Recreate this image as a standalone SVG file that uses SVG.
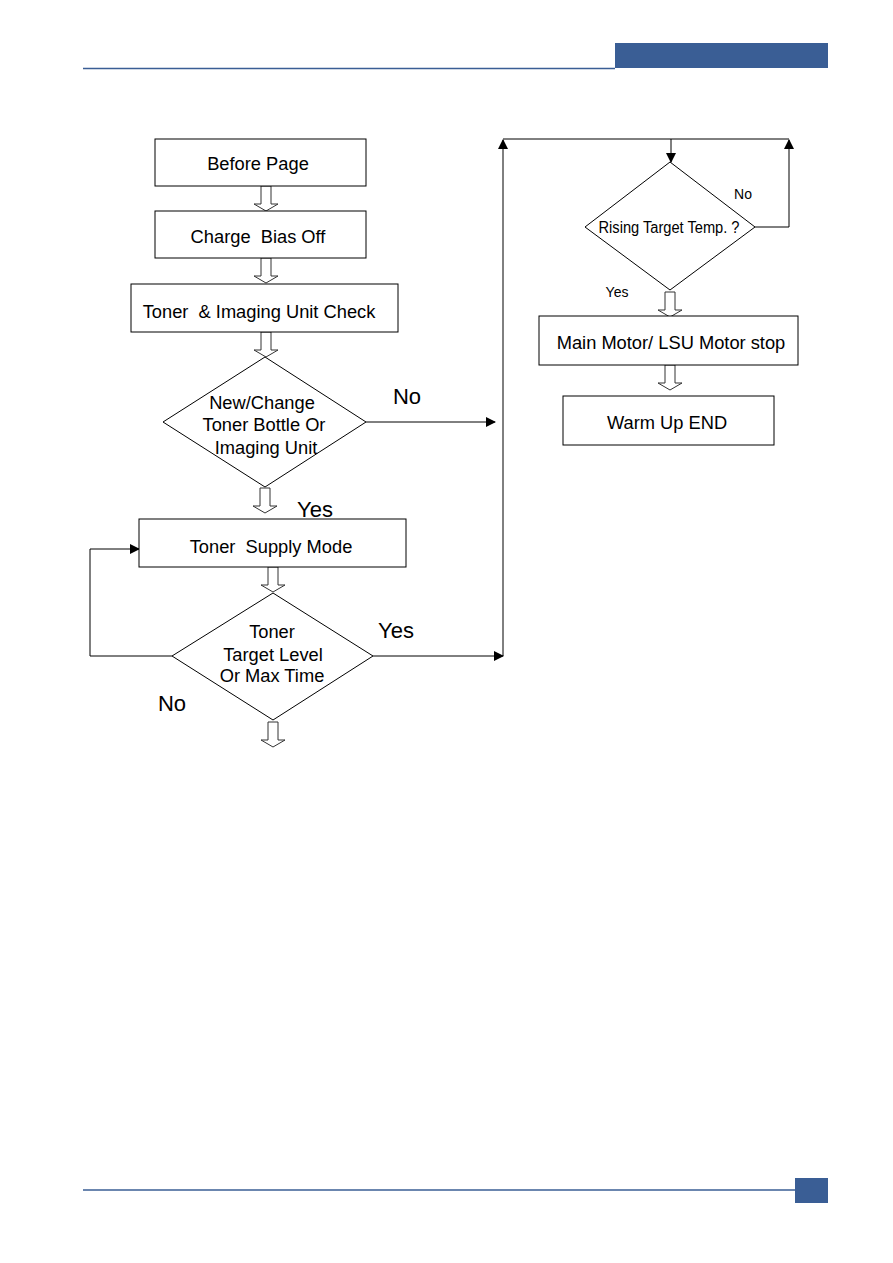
<svg xmlns="http://www.w3.org/2000/svg" width="893" height="1263" viewBox="0 0 893 1263">
<style>
.box{fill:#fff;stroke:#000;stroke-width:1}
.ln{fill:none;stroke:#000;stroke-width:1}
.t{font-family:"Liberation Sans",Arial,sans-serif;font-size:18.3px;fill:#000;text-anchor:middle}
.big{font-family:"Liberation Sans",Arial,sans-serif;font-size:22px;fill:#000;text-anchor:middle}
.sm{font-family:"Liberation Sans",Arial,sans-serif;font-size:14px;fill:#000;text-anchor:middle}
.hol{fill:#fff;stroke:#333;stroke-width:1}
</style>
<defs>
<marker id="ah" markerWidth="10" markerHeight="10" refX="9" refY="5" orient="auto" markerUnits="userSpaceOnUse">
<path d="M0,0 L10,5 L0,10 Z" fill="#000"/>
</marker>
<path id="harrow" d="M-5,0 V18 H-12 L0,25 L12,18 H5 V0 Z"/>
</defs>
<g id="header">
<rect x="615" y="43" width="213" height="25" fill="#3a5e95"/>
<line x1="83" y1="68.5" x2="615" y2="68.5" stroke="#3a5e95" stroke-width="1.5"/>
<line x1="83" y1="1190" x2="795" y2="1190" stroke="#3a5e95" stroke-width="1.5"/>
<rect x="795" y="1178" width="33" height="25" fill="#3a5e95"/>
</g>
<g id="connectors">
<use href="#harrow" class="hol" transform="translate(266,186)"/>
<use href="#harrow" class="hol" transform="translate(266,258)"/>
<use href="#harrow" class="hol" transform="translate(266,332)"/>
<use href="#harrow" class="hol" transform="translate(265,488)"/>
<use href="#harrow" class="hol" transform="translate(273,567)"/>
<use href="#harrow" class="hol" transform="translate(273,722)"/>
<use href="#harrow" class="hol" transform="translate(670,292)"/>
<use href="#harrow" class="hol" transform="translate(670,365)"/>
<path class="ln" d="M366,422 H495" marker-end="url(#ah)"/>
<path class="ln" d="M373,656 H503" marker-end="url(#ah)"/>
<path class="ln" d="M503,656 V140"  marker-end="url(#ah)"/>
<path class="ln" d="M503,139 H789"/>
<path class="ln" d="M671,139 V162" marker-end="url(#ah)"/>
<path class="ln" d="M755,227 H789 V140" marker-end="url(#ah)"/>
<path class="ln" d="M172,656 H90 V549 H139" marker-end="url(#ah)"/>
<text class="big" x="407" y="404">No</text>
<text class="big" x="315" y="517">Yes</text>
<text class="big" x="396" y="638">Yes</text>
<text class="big" x="172" y="711">No</text>
<text class="sm" x="743" y="199">No</text>
<text class="sm" x="617" y="297">Yes</text>
</g>
<g id="n1"><rect class="box" x="155" y="139" width="211" height="47"/><text class="t" x="258" y="170">Before Page</text></g>
<g id="n2"><rect class="box" x="155" y="211" width="211" height="47"/><text class="t" x="258" y="243" xml:space="preserve">Charge  Bias Off</text></g>
<g id="n3"><rect class="box" x="131" y="284" width="267" height="48"/><text class="t" x="259" y="318" xml:space="preserve">Toner  &amp; Imaging Unit Check</text></g>
<g id="d1"><polygon class="box" points="265,357 366,422 265,487 163,422"/>
<text class="t" x="262" y="409">New/Change</text><text class="t" x="264" y="431">Toner Bottle Or</text><text class="t" x="266" y="454">Imaging Unit</text></g>
<g id="n4"><rect class="box" x="139" y="519" width="267" height="48"/><text class="t" x="271" y="553" xml:space="preserve">Toner  Supply Mode</text></g>
<g id="d2"><polygon class="box" points="273,593 373,656 273,720 172,656"/>
<text class="t" x="272" y="638">Toner</text><text class="t" x="273" y="661">Target Level</text><text class="t" x="272" y="682">Or Max Time</text></g>
<g id="d3"><polygon class="box" points="670,162 755,227 670,290 585,227"/>
<text class="t" x="669" y="233" style="font-size:16px" textLength="141" lengthAdjust="spacingAndGlyphs">Rising Target Temp. ?</text></g>
<g id="n5"><rect class="box" x="539" y="316" width="259" height="49"/><text class="t" x="671" y="349">Main Motor/ LSU Motor stop</text></g>
<g id="n6"><rect class="box" x="563" y="396" width="211" height="49"/><text class="t" x="667" y="429">Warm Up END</text></g>
</svg>
